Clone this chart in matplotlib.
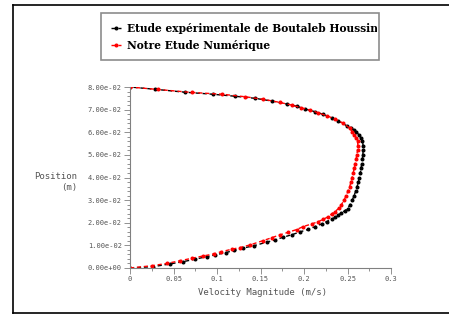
import matplotlib
matplotlib.use("Agg")
import matplotlib.pyplot as plt
import matplotlib.ticker as ticker
from matplotlib.lines import Line2D
from matplotlib.transforms import Bbox, TransformedBbox

# Profil de vitesse : vitesse (m/s) en fonction de la position (m)
vit_exp = [0.0, 0.0268, 0.046, 0.061, 0.075, 0.088, 0.098, 0.110, 0.120, 0.130,
           0.143, 0.157, 0.1667, 0.176, 0.186, 0.195, 0.205, 0.2126, 0.2203, 0.226,
           0.2318, 0.2356, 0.2395, 0.243, 0.247, 0.2500, 0.2530, 0.2555, 0.2575, 0.2595,
           0.2610, 0.2625, 0.2637, 0.2647, 0.2656, 0.2663, 0.2670, 0.2676, 0.2680, 0.2680,
           0.2672, 0.2655, 0.2630, 0.2600, 0.2575, 0.2540, 0.249, 0.2395, 0.2318, 0.222,
           0.2126, 0.201, 0.1916, 0.180, 0.163, 0.1437, 0.121, 0.095, 0.063, 0.0287, 0.0]
pos_exp = [0.0, 0.0006, 0.0018, 0.0028, 0.0039, 0.0050, 0.0058, 0.0068, 0.0078, 0.0088,
           0.0099, 0.0114, 0.0124, 0.0136, 0.0147, 0.0159, 0.0171, 0.0183, 0.0195, 0.0205,
           0.0215, 0.0224, 0.0234, 0.0244, 0.0253, 0.0262, 0.0280, 0.0300, 0.0320, 0.0340,
           0.0360, 0.0380, 0.0400, 0.0420, 0.0440, 0.0460, 0.0480, 0.0500, 0.0520, 0.0540,
           0.0560, 0.0575, 0.0590, 0.0600, 0.0610, 0.0620, 0.0629, 0.0650, 0.0664, 0.0679,
           0.0691, 0.0703, 0.0715, 0.0725, 0.0738, 0.0750, 0.0759, 0.0768, 0.0777, 0.0790, 0.0800]

vit_num = [0.0, 0.025, 0.042, 0.0575, 0.071, 0.084, 0.096, 0.105, 0.117, 0.126,
           0.138, 0.153, 0.163, 0.172, 0.182, 0.1916, 0.199, 0.209, 0.2165, 0.222,
           0.228, 0.2318, 0.2356, 0.2400, 0.2430, 0.2460, 0.2485, 0.2505, 0.2525, 0.2540,
           0.2553, 0.2565, 0.2577, 0.2588, 0.2598, 0.2607, 0.2615, 0.2620, 0.2615, 0.2600,
           0.2578, 0.2555, 0.2529, 0.245, 0.2356, 0.226, 0.2165, 0.207, 0.197, 0.186,
           0.172, 0.153, 0.132, 0.106, 0.071, 0.032, 0.0]
pos_num = [0.0, 0.0010, 0.0020, 0.0032, 0.0043, 0.0053, 0.0062, 0.0072, 0.0083, 0.0090,
           0.0102, 0.0121, 0.0134, 0.0146, 0.0158, 0.0170, 0.0183, 0.0195, 0.0205, 0.0215,
           0.0227, 0.0239, 0.0249, 0.0264, 0.0280, 0.0300, 0.0320, 0.0340, 0.0360, 0.0380,
           0.0400, 0.0420, 0.0440, 0.0460, 0.0480, 0.0500, 0.0520, 0.0540, 0.0560, 0.0575,
           0.0590, 0.0602, 0.0617, 0.0640, 0.0659, 0.0673, 0.0686, 0.0698, 0.0708, 0.0720,
           0.0732, 0.0746, 0.0757, 0.0768, 0.0776, 0.0789, 0.0800]

xticks = [0, 0.05, 0.1, 0.15, 0.2, 0.25, 0.3]
xtick_labels = ["0", "0.05", "0.1", "0.15", "0.2", "0.25", "0.3"]
yticks = [0.0, 0.01, 0.02, 0.03, 0.04, 0.05, 0.06, 0.07, 0.08]

fig = plt.figure(figsize=(4.49, 3.17), dpi=100)
ax = fig.add_axes([130 / 449, 1 - 268 / 317, 261 / 449, 181 / 317])

ax.plot(vit_exp, pos_exp, color='black', linestyle=(0, (3, 2)), linewidth=1.0,
        marker='o', markersize=1.9, label="Etude expérimentale de Boutaleb Houssine")
ax.plot(vit_num, pos_num, color='red', linestyle=(0, (3, 2)), linewidth=1.0,
        marker='o', markersize=1.9, label="Notre Etude Numérique")

ax.set_xlim(0, 0.3)
ax.set_ylim(0, 0.08)
ax.set_xticks(xticks)
ax.set_xticklabels(xtick_labels)
ax.set_yticks(yticks)
ax.yaxis.set_major_formatter(ticker.FormatStrFormatter('%.2e'))
ax.xaxis.set_minor_locator(ticker.MultipleLocator(0.025))
ax.yaxis.set_minor_locator(ticker.MultipleLocator(0.002))

gris = '#808080'
for s in ['top', 'right']:
    ax.spines[s].set_visible(False)
for s in ['left', 'bottom']:
    ax.spines[s].set_color(gris)
    ax.spines[s].set_linewidth(0.8)
ax.tick_params(which='both', colors=gris, labelcolor='#555555', width=0.6, direction='out')
ax.tick_params(which='major', length=4, pad=2, labelsize=5)
ax.tick_params(which='minor', length=2)
for lab in ax.get_xticklabels() + ax.get_yticklabels():
    lab.set_family('DejaVu Sans Mono')

ax.set_xlabel("Velocity Magnitude (m/s)", family='DejaVu Sans Mono', fontsize=6.5, color='#555555')
ax.xaxis.set_label_coords(0.506, -0.138)
ax.xaxis.label.set_va('center')
ax.set_ylabel("Position\n(m)", family='DejaVu Sans Mono', fontsize=6.5, color='#555555',
              rotation=0, ha='right', va='center', multialignment='right')
ax.yaxis.set_label_coords(-0.203, 0.475)

# Légende en haut, encadrée (texte coupé au bord du cadre)
leg = ax.legend(loc='upper left', mode='expand', frameon=True, fancybox=False,
                bbox_to_anchor=(101 / 449, 1 - 62 / 317, 278 / 449, 49 / 317),
                bbox_transform=fig.transFigure, borderaxespad=0,
                prop={'family': 'DejaVu Serif', 'weight': 'bold', 'size': 7.7},
                handlelength=1.0, handletextpad=0.5, labelspacing=0.55, borderpad=0.9)
leg.get_frame().set_edgecolor('#707070')
leg.get_frame().set_linewidth(1.2)
clip = TransformedBbox(Bbox.from_bounds(101 / 449, 1 - 62 / 317, 276 / 449, 49 / 317), fig.transFigure)
for t in leg.get_texts():
    t.set_clip_on(True)
    t.set_clip_box(clip)

# Cadre autour de la figure (bord droit hors image)
x0, y0, y1 = 13 / 449, 1 - 312.5 / 317, 1 - 4.5 / 317
for xs, ys in [([x0, 1.0], [y1, y1]), ([x0, x0], [y0, y1]), ([x0, 1.0], [y0, y0])]:
    fig.lines.append(Line2D(xs, ys, transform=fig.transFigure, color='black', linewidth=1.2))

fig.savefig("out.png", dpi=100)
